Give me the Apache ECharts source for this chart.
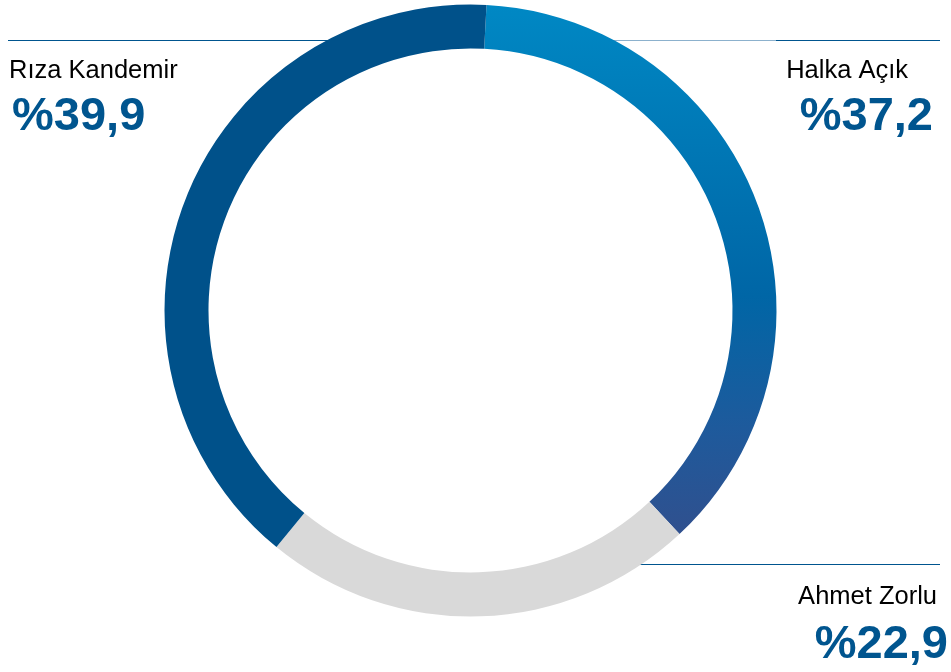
<!DOCTYPE html>
<html>
<head>
<meta charset="utf-8">
<script src="https://cdn.jsdelivr.net/npm/echarts@6/dist/echarts.min.js"></script>
<style>
  html, body { margin: 0; padding: 0; background: #ffffff; }
  #chart { width: 951px; height: 672px; }
</style>
</head>
<body>
<div id="chart"></div>
<script>
// Ownership shares (%), clockwise from the top
var names = ['Halka Açık', 'Ahmet Zorlu', 'Rıza Kandemir'];
var shares = [37.2, 22.9, 39.9];
var valueLabels = ['%37,2', '%22,9', '%39,9'];

var chart = echarts.init(document.getElementById('chart'));

var blueText = '#00558f';

// Label anchor positions (layout only)
var labelPos = [
  { x: 933, y: 49, align: 'right', namePad: [0, 25, 0, 0], valPad: [0, 0, 0, 0], nameLh: 43 },
  { x: 948, y: 574, align: 'right', namePad: [0, 11, 0, 0], valPad: [0, 0, 0, 0], nameLh: 46 },
  { x: 9, y: 49, align: 'left', namePad: [0, 0, 0, 0], valPad: [0, 0, 0, 3], nameLh: 43 }
];

var itemColors = [
  new echarts.graphic.LinearGradient(0, 0, 0, 1, [
    { offset: 0, color: '#0088c4' },
    { offset: 0.55, color: '#0066a6' },
    { offset: 0.8, color: '#1e5a9c' },
    { offset: 1, color: '#30508e' }
  ]),
  '#d9d9d9',
  '#00518a'
];

var data = names.map(function (n, i) {
  return {
    name: n,
    value: shares[i],
    itemStyle: { color: itemColors[i] },
    label: {
      formatter: '{n|' + n + '}\n{v|' + valueLabels[i] + '}',
      rich: {
        n: {
          fontFamily: 'Liberation Sans, Arial, sans-serif',
          fontSize: 25.5,
          color: '#000000',
          lineHeight: labelPos[i].nameLh,
          padding: labelPos[i].namePad
        },
        v: {
          fontFamily: 'Liberation Sans, Arial, sans-serif',
          fontSize: 47,
          fontWeight: 'bold',
          color: blueText,
          lineHeight: 50,
          padding: labelPos[i].valPad
        }
      }
    }
  };
});

var option = {
  backgroundColor: '#ffffff',
  animation: false,
  graphic: [
    // Rule lines for the labels
    { type: 'line', z: 0, shape: { x1: 8, y1: 40.5, x2: 328, y2: 40.5 }, style: { stroke: blueText, lineWidth: 1 } },
    { type: 'line', z: 0, shape: { x1: 612, y1: 40.5, x2: 776, y2: 40.5 }, style: { stroke: '#8cb1cd', lineWidth: 1 } },
    { type: 'line', z: 0, shape: { x1: 776, y1: 40.5, x2: 940, y2: 40.5 }, style: { stroke: blueText, lineWidth: 1 } },
    { type: 'line', z: 0, shape: { x1: 638, y1: 564.5, x2: 940, y2: 564.5 }, style: { stroke: blueText, lineWidth: 1 } }
  ],
  series: [
    {
      type: 'pie',
      center: [470.5, 310.5],
      radius: [262, 306],
      startAngle: 87,
      clockwise: true,
      avoidLabelOverlap: false,
      silent: true,
      label: { show: true, position: 'outside' },
      labelLine: { show: false },
      labelLayout: function (params) {
        var p = labelPos[params.dataIndex];
        return { x: p.x, y: p.y, align: p.align, verticalAlign: 'top', moveOverlap: null };
      },
      data: data
    }
  ]
};

chart.setOption(option);
</script>
</body>
</html>
